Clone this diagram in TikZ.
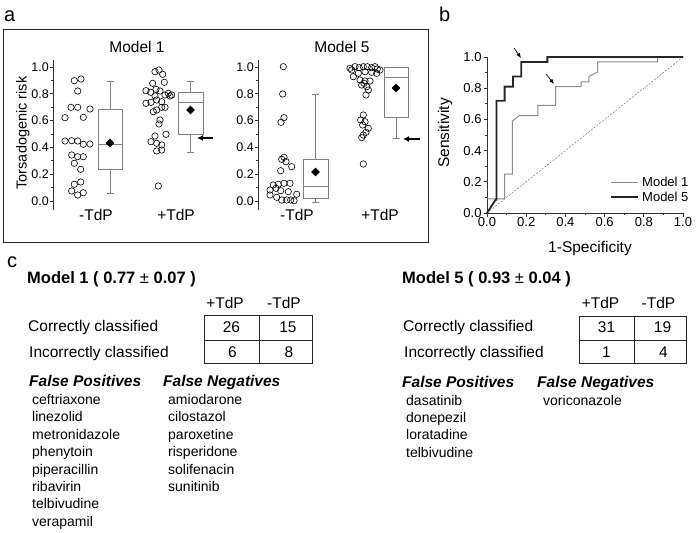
\documentclass[tikz,border=0pt]{standalone}
\usepackage{fontspec}
\setmainfont{Liberation Sans}
\usetikzlibrary{arrows.meta,shapes.geometric}
% box with whiskers: (centre:half width)(q1:median:q3)(low:high)(mean), all in pixels
\def\riskbox(#1:#2)(#3:#4:#5)(#6:#7)(#8){%
  \draw[boxline] (#1-#2,#3) rectangle (#1+#2,#5);
  \draw[boxline] (#1-#2,#4) -- (#1+#2,#4);
  \draw[boxline] (#1,#5) -- (#1,#7) (#1-3.5,#7) -- (#1+3.5,#7);
  \draw[boxline] (#1,#3) -- (#1,#6) (#1-3.5,#6) -- (#1+3.5,#6);
  \node[meanmark] at (#1,#8) {};}
\tikzset{
  panelname/.style={font=\fontsize{20}{24}\selectfont, anchor=base west, inner sep=0pt},
  framebox/.style={line width=0.9pt, draw=black!85},
  axisline/.style={line width=0.7pt, draw=black!80},
  ticklab/.style={font=\fontsize{12.5}{14}\selectfont, anchor=east, inner sep=0pt},
  boxline/.style={line width=0.6pt, draw=black!50},
  dot/.style={line width=0.6pt, draw=black},
  meanmark/.style={diamond, fill=black, inner sep=0pt, minimum size=9pt},
  bigarrow/.style={line width=1.6pt, -{Latex[length=6pt,width=6pt]}},
  smallarrow/.style={line width=0.7pt, -{Latex[length=5pt,width=4pt]}},
  lbl/.style={anchor=base west, inner sep=0pt},
  drug/.style={font=\fontsize{14}{16}\selectfont, anchor=base west, inner sep=0pt},
  headline/.style={font=\fontsize{16.5}{19}\selectfont\bfseries, anchor=base west, inner sep=0pt},
  listhead/.style={font=\fontsize{15.5}{18}\selectfont\bfseries\itshape, anchor=base west, inner sep=0pt},
  cellnum/.style={anchor=base, inner sep=0pt},
  grid/.style={line width=0.9pt, draw=black!85}
}
\begin{document}
\begin{tikzpicture}[x=1pt,y=-1pt,font=\fontsize{15.5}{18}\selectfont]
\useasboundingbox (0,0) rectangle (697,533);

%%%%% panel a %%%%%
\node[panelname] (la) at (4,21) {a};
\draw[framebox] (3,29) rectangle (428,242);

\node (ttlA) at (137,47) {Model 1};
\node (ttlB) at (342,47) {Model 5};
\node[rotate=90, font=\fontsize{14.5}{17}\selectfont] (risk) at (23,133) {Torsadogenic risk};

% axes
\draw[axisline] (53,60) -- (53,210);
\draw[axisline] (258,60) -- (258,210);
\foreach \k in {1,3,5,7,9}{
  \draw[axisline] (51,{201-13.4*\k}) -- (53,{201-13.4*\k});
  \draw[axisline] (256,{201-13.4*\k}) -- (258,{201-13.4*\k});
}
\foreach \k/\t in {0/0.0,2/0.2,4/0.4,6/0.6,8/0.8,10/1.0}{
  \draw[axisline] (50,{201-13.4*\k}) -- (53,{201-13.4*\k});
  \draw[axisline] (255,{201-13.4*\k}) -- (258,{201-13.4*\k});
  \node[ticklab] (tA\k) at (49,{201-13.4*\k}) {\t};
  \node[ticklab] (tB\k) at (254,{201-13.4*\k}) {\t};
}
\node (negA) at (96,215) {-TdP};
\node (posA) at (176,215) {+TdP};
\node (negB) at (297,215) {-TdP};
\node (posB) at (380,215) {+TdP};

% Model 1 points
\foreach \cx/\cy in {74.3/80.7,81/79,77.7/91,71/107.3,77.7/107.3,90/109,65/117.7,83.3/117.3,
  65/141,71.7/140.7,77.7/141,83.3/144.3,90/144,71.7/155,77.7/156.7,83.3/156.7,74.3/163.3,
  80.7/169.3,74.3/184.3,80.7/182,71.7/191,77.7/195,83.3/192.7}
  \draw[dot] (\cx,\cy) circle (3.2pt);
\foreach \cx/\cy in {155/71.7,159/70,162.7/74.3,164.3/82.3,152.7/83.3,146/90.7,150.7/92.3,
  156/89.3,160/91,168.3/93.3,171.7/95,165/95,155/96,170/96,146/103.3,151/102.3,156.7/100,
  161.7/101.7,156.7/110,161.7/107.3,165/107.3,153.3/111.7,160/120,159/124,166/134.3,
  155/136,151/141.7,156.7/143.3,161.7/145,156.7/151,161.7/150,158.3/186}
  \draw[dot] (\cx,\cy) circle (3.2pt);

% Model 5 points
\foreach \cx/\cy in {283.3/66.7,282.7/94,284/117.7,281/122.3,284/157.3,281.7/159.3,286/161.7,
  291.7/166.7,280.7/170.7,273.3/185,278.3/184.3,284/183.3,290/183.3,270/190,276/188.3,
  280.7/190.7,288.3/191.7,296.7/194.3,270/195,276.7/197.3,281.7/200,286.7/200,290.7/200,294/200.7}
  \draw[dot] (\cx,\cy) circle (3.2pt);
\foreach \cx/\cy in {350/68.3,355/66.7,359.3/67.7,363.3/66.7,367.3/66.7,371.7/67.7,375/66.7,
  377.3/69,380/70,351.7/70,353.3/76.7,358.3/73.3,365/71.7,371.7/72.3,376.7/73.3,360/80,
  365/81,370/81,361.7/85,366.7/86.7,364/83.3,368.3/90,366/95,363.3/115,360.7/120,365/121.7,
  362.7/125,368.3/128.3,366/132.3,363.3/135,361.7/137.7,363.3/164}
  \draw[dot] (\cx,\cy) circle (3.2pt);

% boxes
\riskbox(110:12)(169:144:109)(193:81)(143)
\riskbox(190.5:12.5)(134:102:92)(152:81)(110)
\riskbox(315.5:12.5)(198:186:159)(202:94)(172)
\riskbox(396:12)(117:77:67)(138:67)(88)

\coordinate (cutA) at (213,138);
\coordinate (cutB) at (420,139);
\draw[bigarrow] (cutA) -- ++(-16,0);
\draw[bigarrow] (cutB) -- ++(-17,0);

%%%%% panel b %%%%%
\node[panelname] (lb) at (439,21) {b};
\node[rotate=90] (sens) at (445,133) {Sensitivity};
\node (spec) at (590,248) {1-Specificity};

\begin{scope}[shift={(487,213)}, x=196pt, y=156pt]
  \draw[axisline] (0,0) -- (1,0);
  \draw[axisline] (0,0) -- (0,1);
  \foreach \k in {1,3,5,7,9}{
    \draw[axisline] (0.1*\k,0) -- ++(0,-2pt);
    \draw[axisline] (0,0.1*\k) -- ++(-2pt,0);
  }
  \foreach \k/\t in {0/0.0,2/0.2,4/0.4,6/0.6,8/0.8,10/1.0}{
    \draw[axisline] (0.1*\k,0) -- ++(0,-3.5pt);
    \draw[axisline] (0,0.1*\k) -- ++(-3.5pt,0);
    \node[ticklab, font=\fontsize{13}{15}\selectfont, anchor=north] (sx\k) at (0.1*\k,-0.03) {\t};
    \node[ticklab, font=\fontsize{13}{15}\selectfont] (sy\k) at (-0.027,0.1*\k) {\t};
  }
  \draw[black!55, line width=0.5pt, dashed, dash pattern=on 2pt off 1.5pt] (0,0) -- (1,1);
  % Model 1
  \draw[black!45, line width=1pt] (0,0.09) -- (0.09,0.09) -- (0.09,0.25) -- (0.13,0.25)
    -- (0.13,0.59) -- (0.165,0.625) -- (0.26,0.625) -- (0.26,0.69) -- (0.35,0.69)
    -- (0.35,0.81) -- (0.48,0.81) -- (0.48,0.84) -- (0.52,0.84) -- (0.52,0.875)
    -- (0.565,0.905) -- (0.565,0.968) -- (0.87,0.968) -- (0.87,1) -- (1,1);
  % Model 5
  \draw[black!85, line width=1.8pt] (0,0) -- (0.044,0.085) -- (0.048,0.085) -- (0.048,0.72)
    -- (0.09,0.72) -- (0.09,0.81) -- (0.133,0.81) -- (0.133,0.875) -- (0.175,0.875)
    -- (0.175,0.968) -- (0.308,0.968) -- (0.308,1) -- (1,1);
\end{scope}

\coordinate (cut5) at (514,48);
\coordinate (cut1) at (546,74);
\draw[smallarrow] (cut5) -- (521,58);
\draw[smallarrow] (cut1) -- (554,84);

\draw[black!45, line width=1pt] (611,182) -- (638,182);
\draw[black!85, line width=1.8pt] (611,197) -- (638,197);
\node[font=\fontsize{13}{15}\selectfont, anchor=west, inner sep=0pt] (leg1) at (642,182) {Model 1};
\node[font=\fontsize{13}{15}\selectfont, anchor=west, inner sep=0pt] (leg5) at (642,197) {Model 5};

%%%%% panel c %%%%%
\node[panelname] (lc) at (7,267) {c};

% Model 1
\node[headline] (hA) at (27,283) {Model 1 ( 0.77 {\mdseries ±} 0.07 )};
\node[anchor=base] (pA) at (225,308.5) {+TdP};
\node[anchor=base] (nA) at (284,308.5) {-TdP};
\node[lbl] (okA) at (28,331.5) {Correctly classified};
\node[lbl] (badA) at (29,357) {Incorrectly classified};
\draw[grid] (204,315) rectangle (312,363);
\draw[grid] (259,315) -- (259,363) (204,340) -- (312,340);
\node[cellnum] (a11) at (231.5,332.5) {26};
\node[cellnum] (a12) at (288,332.5) {15};
\node[cellnum] (a21) at (232.5,357.5) {6};
\node[cellnum] (a22) at (289,357.5) {8};
\node[listhead] (fpA) at (29,386.5) {False Positives};
\node[listhead] (fnA) at (163,386.5) {False Negatives};
\foreach \d [count=\i] in {ceftriaxone,linezolid,metronidazole,phenytoin,piperacillin,ribavirin,telbivudine,verapamil}
  \node[drug] (fpA\i) at (32,{404.5+17.4*(\i-1)}) {\d};
\foreach \d [count=\i] in {amiodarone,cilostazol,paroxetine,risperidone,solifenacin,sunitinib}
  \node[drug] (fnA\i) at (168,{404.5+17.4*(\i-1)}) {\d};

% Model 5
\node[headline] (hB) at (402,283) {Model 5 ( 0.93 {\mdseries ±} 0.04 )};
\node[anchor=base] (pB) at (600.5,308.5) {+TdP};
\node[anchor=base] (nB) at (658.5,308.5) {-TdP};
\node[lbl] (okB) at (403,331.5) {Correctly classified};
\node[lbl] (badB) at (404,357) {Incorrectly classified};
\draw[grid] (579,316.5) rectangle (686,363);
\draw[grid] (634,316.5) -- (634,363) (579,340.5) -- (686,340.5);
\node[cellnum] (b11) at (606.5,332.5) {31};
\node[cellnum] (b12) at (662.5,332.5) {19};
\node[cellnum] (b21) at (606.5,357.5) {1};
\node[cellnum] (b22) at (663.5,357.5) {4};
\node[listhead] (fpB) at (402,387) {False Positives};
\node[listhead] (fnB) at (537,387) {False Negatives};
\foreach \d [count=\i] in {dasatinib,donepezil,loratadine,telbivudine}
  \node[drug] (fpB\i) at (406,{405+17.4*(\i-1)}) {\d};
\node[drug] (fnB1) at (543,405) {voriconazole};

\end{tikzpicture}
\end{document}
